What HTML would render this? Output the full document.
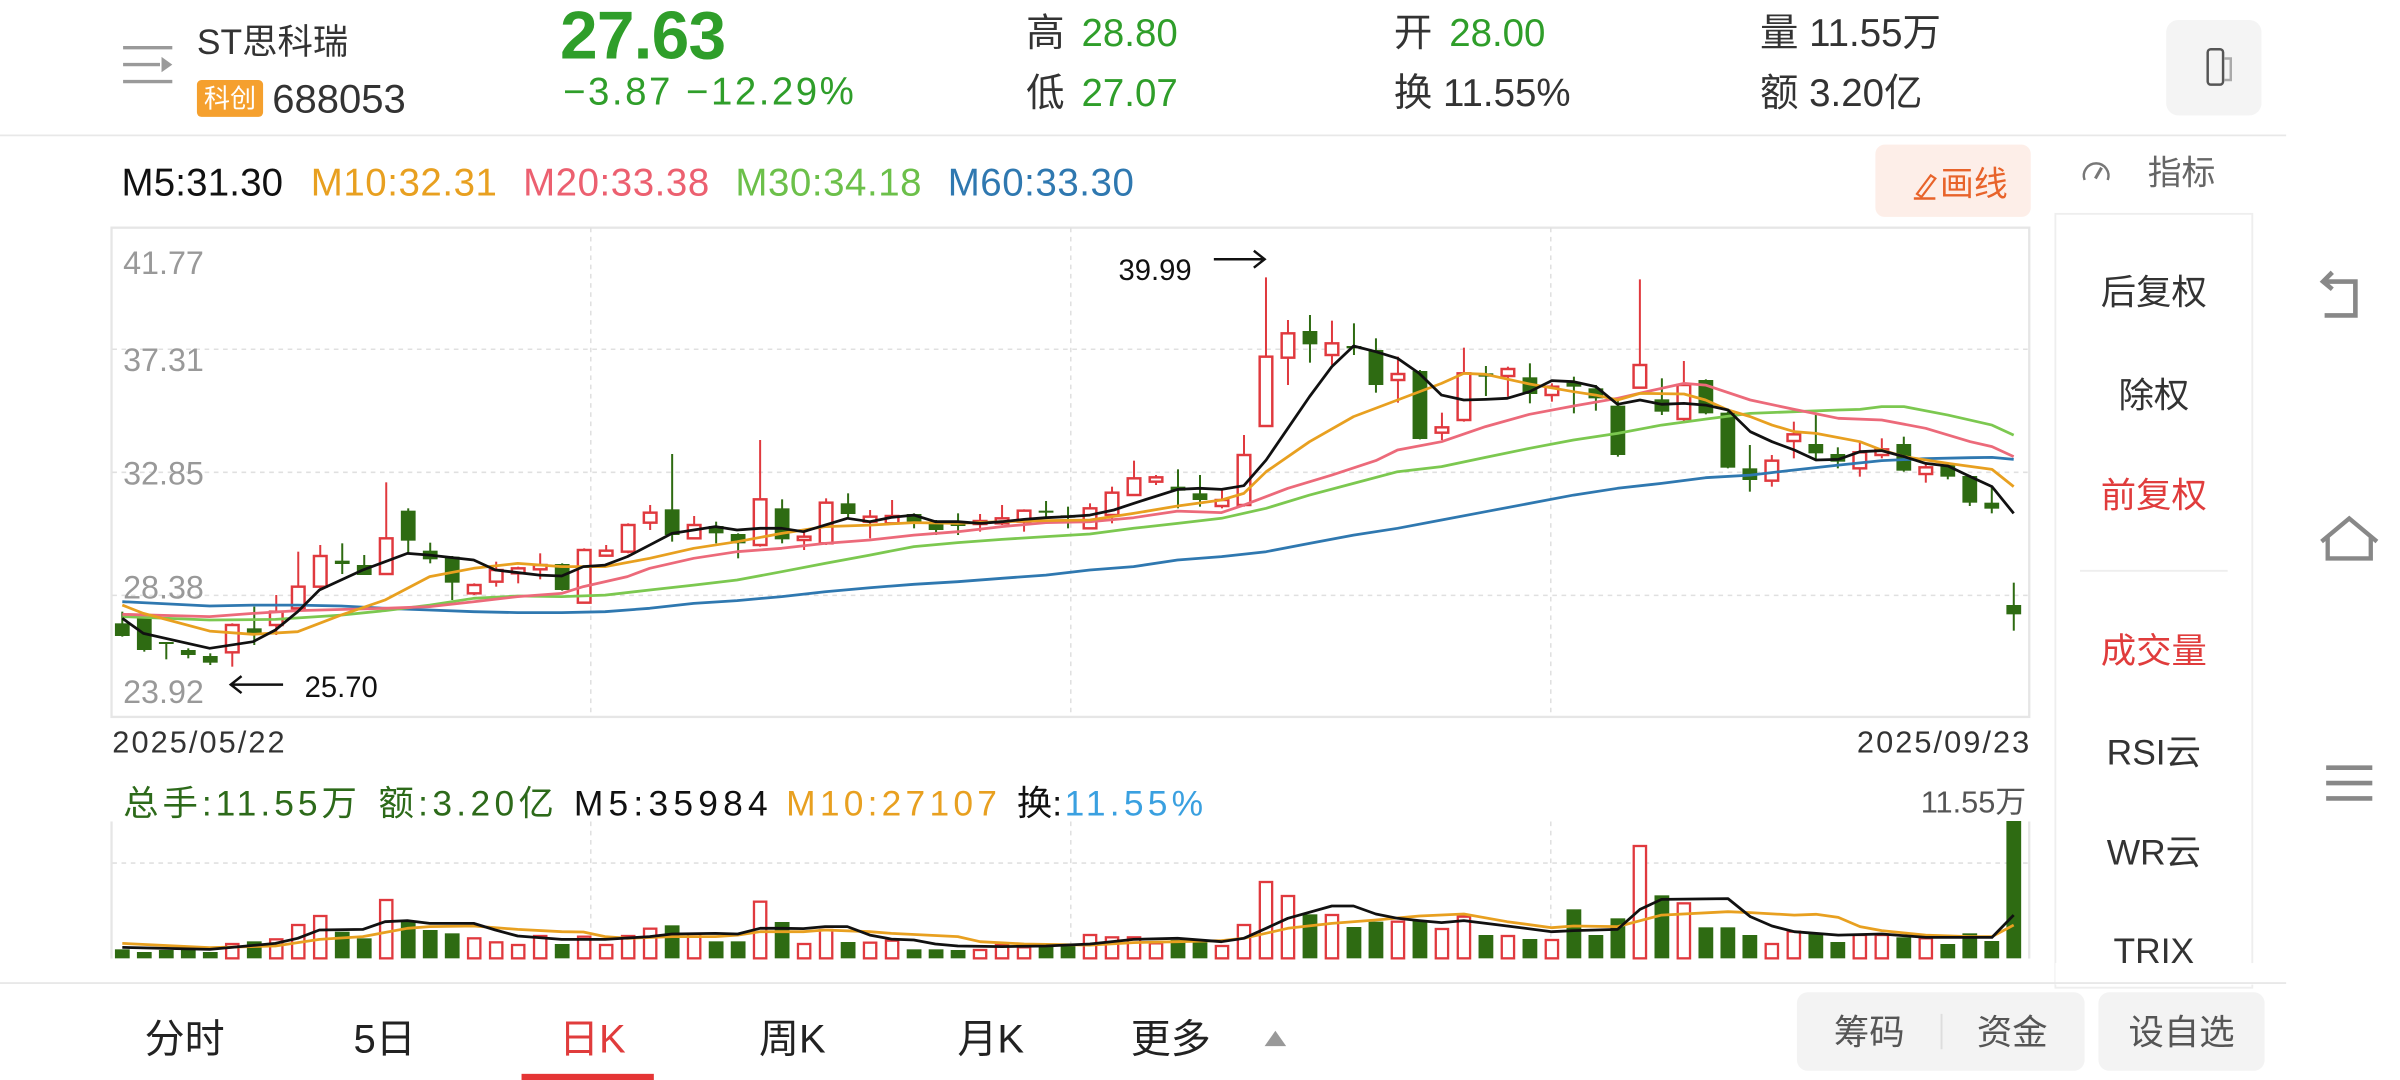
<!DOCTYPE html>
<html><head><meta charset="utf-8">
<style>
html,body{margin:0;padding:0;background:#fff;width:2400px;height:1080px;overflow:hidden}
svg{display:block}
text{font-family:"Liberation Sans","Noto Sans CJK SC",sans-serif}
</style></head>
<body>
<svg id="s" width="2400" height="1080" viewBox="0 0 1560 702" xmlns="http://www.w3.org/2000/svg">
<g stroke="#9a9a9a" stroke-width="2.2" fill="none">
<line x1="80" y1="31" x2="112" y2="31"/><line x1="80" y1="42" x2="104" y2="42"/><line x1="80" y1="53" x2="112" y2="53"/>
</g>
<path d="M105 37 L112 42 L105 47 Z" fill="#9a9a9a"/>
<text x="128" y="35" font-size="23" fill="#333">ST思科瑞</text>
<rect x="128" y="52" width="43" height="24" rx="3" fill="#f5a02e"/>
<text x="149.5" y="70" font-size="17" fill="#fff" text-anchor="middle">科创</text>
<text x="177" y="73" font-size="26" fill="#333">688053</text>
<text x="364" y="38" font-size="44" font-weight="bold" fill="#2f9e2a" textLength="108">27.63</text>
<text x="366" y="68" font-size="25" fill="#2f9e2a" textLength="189">−3.87  −12.29%</text>
<text x="667" y="30" font-size="25" fill="#333">高</text><text x="703" y="30" font-size="25" fill="#2f9e2a">28.80</text>
<text x="667" y="69" font-size="25" fill="#333">低</text><text x="703" y="69" font-size="25" fill="#2f9e2a">27.07</text>
<text x="906" y="30" font-size="25" fill="#333">开</text><text x="942" y="30" font-size="25" fill="#2f9e2a">28.00</text>
<text x="906" y="69" font-size="25" fill="#333">换 11.55%</text>
<text x="1144" y="30" font-size="25" fill="#333">量 11.55万</text>
<text x="1144" y="69" font-size="25" fill="#333">额 3.20亿</text>
<rect x="1408" y="13" width="62" height="62" rx="8" fill="#f4f4f4"/>
<rect x="1435" y="32" width="10" height="23" rx="2" fill="none" stroke="#555" stroke-width="1.6"/>
<path d="M1446 38 h4 v14 h-4" fill="none" stroke="#aaa" stroke-width="1.6"/>
<line x1="0" y1="88" x2="1486" y2="88" stroke="#e8e8e8" stroke-width="1.2"/>
<text x="79" y="127" font-size="25" fill="#111" textLength="105">M5:31.30</text>
<text x="202" y="127" font-size="25" fill="#e8a020" textLength="121">M10:32.31</text>
<text x="340" y="127" font-size="25" fill="#ec6070" textLength="121">M20:33.38</text>
<text x="478" y="127" font-size="25" fill="#6cc04a" textLength="121">M30:34.18</text>
<text x="616" y="127" font-size="25" fill="#2f78b0" textLength="121">M60:33.30</text>
<rect x="1219" y="94" width="101" height="47" rx="6" fill="#fdeee8"/>
<path d="M1246 126 l9 -12 l3 2 l-9 12 z" fill="none" stroke="#e8632a" stroke-width="1.4"/>
<line x1="1244" y1="129" x2="1258" y2="129" stroke="#e8632a" stroke-width="1.6"/>
<text x="1261" y="127" font-size="22" fill="#e8632a">画线</text>
<path d="M1355 117 a8 8 0 1 1 15 0" fill="none" stroke="#777" stroke-width="1.6"/>
<line x1="1362" y1="116" x2="1366" y2="109" stroke="#777" stroke-width="2"/>
<text x="1396" y="120" font-size="22" fill="#666">指标</text>
<rect x="72.5" y="148" width="1246.5" height="318" fill="none" stroke="#e6e6e6" stroke-width="1.5"/>
<g stroke="#e0e0e0" stroke-width="1" stroke-dasharray="3,3">
<line x1="73" y1="227" x2="1319" y2="227"/><line x1="73" y1="307" x2="1319" y2="307"/><line x1="73" y1="387" x2="1319" y2="387"/>
<line x1="384" y1="148" x2="384" y2="466"/><line x1="696" y1="148" x2="696" y2="466"/><line x1="1008" y1="148" x2="1008" y2="466"/>
<line x1="73" y1="561" x2="1319" y2="561"/>
<line x1="384" y1="534" x2="384" y2="623"/><line x1="696" y1="534" x2="696" y2="623"/><line x1="1008" y1="534" x2="1008" y2="623"/>
</g>
<line x1="72.5" y1="534" x2="72.5" y2="623" stroke="#e6e6e6" stroke-width="1.5"/>
<line x1="1319" y1="534" x2="1319" y2="623" stroke="#e6e6e6" stroke-width="1.5"/>
<g font-size="21" fill="#999">
<text x="80" y="178">41.77</text><text x="80" y="241">37.31</text><text x="80" y="315">32.85</text><text x="80" y="389">28.38</text><text x="80" y="457">23.92</text>
</g>
<text x="73" y="489" font-size="20" fill="#333" textLength="112">2025/05/22</text>
<text x="1207" y="489" font-size="20" fill="#333" textLength="112">2025/09/23</text>
<text x="727" y="182" font-size="19" fill="#111">39.99</text>
<path d="M789 168.5 H822 M815 163 L822 168.5 L815 174" stroke="#111" stroke-width="1.6" fill="none"/>
<path d="M150 445 H184 M157 439.5 L150 445 L157 450.5" stroke="#111" stroke-width="1.6" fill="none"/>
<text x="198" y="453" font-size="19" fill="#111">25.70</text>
<g id="candles"></g>
<g id="mas" fill="none" stroke-width="1.8" stroke-linejoin="round"></g>
<text x="80" y="530" font-size="23" fill="#2d6a1a" textLength="152">总手:11.55万</text>
<text x="246" y="530" font-size="23" fill="#2d6a1a" textLength="114">额:3.20亿</text>
<text x="373" y="530" font-size="23" fill="#111" textLength="126">M5:35984</text>
<text x="511" y="530" font-size="23" fill="#e8a020" textLength="137">M10:27107</text>
<text x="661" y="530" font-size="23" fill="#111">换:</text><text x="692" y="530" font-size="23" fill="#3aa0e0" textLength="90">11.55%</text>
<text x="1317" y="528" font-size="20" fill="#555" text-anchor="end">11.55万</text>
<g id="vols"></g>
<g id="vmas" fill="none" stroke-width="1.8" stroke-linejoin="round"></g>
<rect x="1336" y="139" width="128" height="503" fill="#fff" stroke="#eee" stroke-width="1.2"/>
<g font-size="23" text-anchor="middle">
<text x="1400" y="198" fill="#333">后复权</text>
<text x="1400" y="265" fill="#333">除权</text>
<text x="1400" y="330" fill="#e03c3c">前复权</text>
<text x="1400" y="431" fill="#e03c3c">成交量</text>
<text x="1400" y="497" fill="#333">RSI云</text>
<text x="1400" y="562" fill="#333">WR云</text>
<text x="1400" y="626" fill="#333">TRIX</text>
</g>
<line x1="1352" y1="371" x2="1448" y2="371" stroke="#eee" stroke-width="1.2"/>
<rect x="1336" y="626" width="130" height="14" fill="#fff"/>
<line x1="0" y1="639" x2="1486" y2="639" stroke="#e8e8e8" stroke-width="1.2"/>
<path d="M1511 183 h20 v22 h-20" fill="none" stroke="#888" stroke-width="3"/>
<path d="M1516 177 l-6 6 l6 5" fill="none" stroke="#888" stroke-width="3"/>
<path d="M1509 352 l18 -15 l18 15 M1513 349 v14 h28 v-14" fill="none" stroke="#888" stroke-width="2.8"/>
<g stroke="#888" stroke-width="3"><line x1="1512" y1="499" x2="1542" y2="499"/><line x1="1512" y1="509" x2="1542" y2="509"/><line x1="1512" y1="519" x2="1542" y2="519"/></g>
<g font-size="26" fill="#222" text-anchor="middle">
<text x="120" y="684">分时</text><text x="250" y="684">5日</text>
<text x="385" y="684" fill="#e03c3c">日K</text><text x="515" y="684">周K</text>
<text x="644" y="684">月K</text><text x="761" y="684">更多</text>
</g>
<path d="M822 680 l7 -10 l7 10 z" fill="#999"/>
<rect x="339" y="698" width="86" height="4" fill="#e53535"/>
<rect x="1168" y="645" width="187" height="51" rx="7" fill="#f3f3f3"/>
<line x1="1262" y1="659" x2="1262" y2="682" stroke="#ddd" stroke-width="1.2"/>
<rect x="1364" y="645" width="108" height="51" rx="7" fill="#f3f3f3"/>
<g font-size="23" fill="#555" text-anchor="middle">
<text x="1215" y="679">筹码</text><text x="1308" y="679">资金</text><text x="1418" y="679">设自选</text>
</g>
</svg>
<script>
(function(){
var NS="http://www.w3.org/2000/svg",K=1.53846;
function X1(z){return (100+z/1.568)/K}function X2(z){return (1050+z/1.568)/K}
function Y(z){return (220+z/3)/K}function VY(z){return (820+z/3)/K}
var x0=79.5,st=14.296;
var C=[["G",1210,1248,1175,1250],["G",1195,1290,1190,1295],["G",1266,1272,1266,1318],["G",1290,1305,1285,1315],["G",1308,1328,1300,1335],
["R",1215,1297,1210,1340],["G",1225,1240,1160,1275],["R",1175,1215,1125,1245],["R",1100,1165,995,1170],["R",1008,1100,975,1110],
["G",1022,1032,970,1062],["G",1035,1065,1005,1065],["R",955,1062,787,1065],["G",872,962,865,1000],["G",992,1018,968,1030],
["G",1010,1088,1008,1140],["R",1095,1120,1090,1125],["R",1050,1085,1025,1100],["R",1045,1060,1040,1090],["R",1035,1048,1000,1078],
["G",1032,1110,1030,1112],["R",990,1148,985,1150],["R",992,1007,975,1010],["R",915,995,910,1000],["R",878,908,855,930],
["G",868,945,702,965],["R",915,955,888,955],["G",918,940,905,970],["G",942,970,940,1015],["R",838,975,660,980],
["G",865,958,838,970],["R",950,960,935,990],["R",848,970,835,975],["G",850,882,820,895],["R",890,905,870,955],
["R",888,910,840,915],["G",882,905,880,925],["G",905,930,900,945],["G",905,918,880,945],["R",903,912,882,935],
["R",895,910,855,915],["R",872,905,868,935],["G",872,878,843,890],["G",886,893,860,925],["R",865,925,850,928],
["R",818,885,800,910],["R",775,825,722,828],["R",772,785,765,795],["G",800,812,748,865],["G",820,840,765,860],
["R",840,858,810,865],["R",705,855,645,860],["R",410,618,172,620],["R",340,413,300,495],["G",333,373,285,428],
["R",370,405,302,435],["G",378,385,310,405],["G",390,495,355,518],["R",462,480,410,548],["G",453,657,450,658],
["R",622,638,578,660],["R",460,600,383,605],["G",460,470,438,528],["R",447,468,440,530],["G",472,522,430,550],
["R",500,525,490,545],["G",488,500,470,580],["G",505,535,495,572],["G",557,705,540,710],["R",435,503,178,505],
["G",538,575,475,585],["R",495,597,423,605],["G",480,580,478,583],["G",578,743,575,745],["G",745,780,675,815],
["R",722,782,705,800],["R",643,663,605,715],["G",672,700,585,720],["G",702,725,682,745],["R",697,745,662,770],
["R",688,705,655,715],["G",672,752,650,755],["R",742,762,728,788],["G",735,770,733,778],["G",768,848,765,858],
["G",848,866,797,880],["G",1155,1183,1088,1232]];
var V=[388,396,390,390,396,372,364,358,315,288,335,355,240,305,330,340,355,367,375,348,372,350,375,348,326,316,342,364,364,245,306,372,330,366,368,362,388,388,390,390,375,382,380,378,345,352,352,370,360,360,378,315,186,228,283,285,321,305,305,300,327,290,345,348,357,360,268,345,295,78,226,250,322,322,345,372,335,340,366,345,345,352,355,372,340,363,3];
var RED="#e0393e",GRN="#2e6b12";
var cg=document.getElementById("candles"),vg=document.getElementById("vols");
function el(t,a,p){var e=document.createElementNS(NS,t);for(var k in a)e.setAttribute(k,a[k]);p.appendChild(e);return e}
var w=9.6;
C.forEach(function(c,i){var x=x0+i*st,col=c[0]=="R"?RED:GRN;
 var bt=Y(c[1]),bb=Y(c[2]),wt=Y(c[3]),wb=Y(c[4]);if(bb-bt<1.2)bb=bt+1.2;
 if(c[0]=="R"){el("line",{x1:x,y1:wt,x2:x,y2:bt,stroke:col,"stroke-width":1.3},cg);el("line",{x1:x,y1:bb,x2:x,y2:wb,stroke:col,"stroke-width":1.3},cg);
  el("rect",{x:x-w/2+0.7,y:bt,width:w-1.4,height:bb-bt,fill:"#fff",stroke:col,"stroke-width":1.6},cg);}
 else{el("line",{x1:x,y1:wt,x2:x,y2:wb,stroke:col,"stroke-width":1.3},cg);el("rect",{x:x-w/2,y:bt,width:w,height:bb-bt,fill:col},cg);}
 var vt=VY(V[i]),base=VY(415);
 if(c[0]=="R")el("rect",{x:x-w/2+0.8,y:vt,width:w-1.6,height:base-vt,fill:"#fff",stroke:RED,"stroke-width":1.5},vg);
 else el("rect",{x:x-w/2,y:vt,width:w,height:base-vt,fill:GRN},vg);
});
function line(g,col,a,b,fy){var pts=[];for(var i=0;i<a.length;i+=2)pts.push(X1(a[i]).toFixed(1)+","+fy(a[i+1]).toFixed(1));
 for(i=0;i<b.length;i+=2){if(X2(b[i])<=X1(a[a.length-2]))continue;pts.push(X2(b[i]).toFixed(1)+","+fy(b[i+1]).toFixed(1));}
 el("polyline",{points:pts.join(" "),stroke:col},g);}
var mg=document.getElementById("mas");
line(mg,"#2f78b0",[35,1145,172,1158,240,1155,310,1155,378,1158,447,1165,517,1170,586,1175,655,1178,724,1178,792,1175,862,1165,931,1150,999,1142,1069,1130,1137,1115,1207,1103,1276,1093,1345,1085,1414,1075,1483,1065,1552,1050],
[131,1040,200,1020,269,1010,339,995,407,970,476,945,545,925,614,900,683,875,752,850,821,825,890,805,959,790,1028,773,1098,765,1167,750,1236,735,1304,722,1373,716,1443,713,1477,712,1511,718],Y);
line(mg,"#7cc850",[35,1190,172,1200,275,1198,378,1185,447,1172,517,1155,586,1135,655,1128,724,1130,792,1125,862,1110,931,1095,999,1080,1069,1055,1137,1030,1207,1005,1276,980,1345,968,1414,958,1483,950,1552,942],
[131,925,200,910,269,895,339,865,407,825,476,790,545,755,614,740,683,712,752,685,821,660,890,640,959,615,1028,597,1098,580,1167,575,1236,570,1270,568,1304,560,1339,560,1408,585,1477,615,1511,645],Y);
line(mg,"#ec6a7a",[35,1183,172,1190,240,1180,310,1172,447,1165,517,1160,586,1145,655,1130,724,1120,758,1100,827,1070,862,1045,931,1015,999,995,1069,985,1137,970,1207,960,1276,945,1345,935,1414,920,1483,908,1552,905],
[131,893,200,873,269,878,304,855,373,805,442,765,511,722,545,690,614,665,683,620,752,583,821,558,890,535,959,505,994,490,1028,495,1098,540,1167,568,1236,595,1304,600,1373,625,1443,665,1477,680,1511,710],Y);
line(mg,"#e8a020",[35,1155,68,1180,172,1233,240,1243,310,1235,378,1185,447,1140,517,1070,586,1045,655,1030,724,1040,792,1040,862,1015,931,985,999,965,1069,940,1137,920,1207,915,1276,908,1345,910,1414,905,1483,902,1552,900],
[131,880,200,858,269,840,304,820,339,755,407,665,476,590,545,540,614,490,649,460,683,463,752,492,821,515,856,525,890,540,925,520,994,522,1028,540,1063,570,1098,590,1132,615,1167,635,1201,640,1270,665,1304,690,1339,710,1408,730,1477,748,1511,800],Y);
line(mg,"#111",[35,1195,68,1240,172,1285,240,1265,275,1230,310,1175,344,1110,412,1050,482,1000,517,1005,586,1020,620,1050,689,1065,724,1068,758,1040,792,1035,827,1010,862,975,897,940,965,920,999,930,1035,925,1069,925,1103,935,1137,915,1172,895,1207,905,1241,892,1276,885,1310,905,1345,905,1380,910,1414,905,1449,898,1483,893,1518,890,1552,885],
[100,870,131,850,200,808,235,805,269,808,304,797,339,720,373,625,407,530,442,440,476,378,511,395,545,415,579,460,614,525,649,540,683,538,717,535,752,515,787,482,821,485,856,500,890,553,925,540,959,553,994,550,1028,555,1063,570,1098,635,1132,665,1167,690,1201,720,1236,718,1270,695,1304,692,1339,710,1373,730,1408,738,1443,770,1477,800,1511,880],Y);
var vm=document.getElementById("vmas");
line(vm,"#e8a020",[35,370,172,383,275,378,344,358,412,350,482,325,517,320,586,318,655,328,724,335,758,336,792,350,827,355,897,350,965,350,1000,345,1035,335,1103,335,1137,330,1207,335,1241,340,1345,350,1380,365,1449,372,1552,375],
[131,368,200,365,269,362,304,355,373,325,442,310,511,300,579,288,649,282,717,305,787,323,821,318,890,320,959,285,1063,275,1098,278,1167,285,1201,283,1236,292,1270,320,1304,332,1373,345,1443,350,1477,350,1511,315],VY);
line(vm,"#111",[35,382,172,388,275,370,310,355,344,330,412,328,447,305,482,302,517,310,586,310,620,330,655,348,724,358,792,358,862,350,897,342,965,340,1000,342,1035,325,1069,325,1103,326,1137,320,1172,320,1207,345,1241,357,1276,360,1310,372,1345,378,1414,380,1483,378,1552,372],
[131,358,200,355,269,365,304,355,339,325,373,295,442,258,476,258,511,282,545,295,579,302,614,308,649,302,717,318,787,335,821,332,890,328,925,268,959,238,1063,236,1098,290,1132,318,1167,335,1236,345,1304,342,1373,352,1443,352,1477,352,1511,285],VY);
})();
</script>
</body></html>
